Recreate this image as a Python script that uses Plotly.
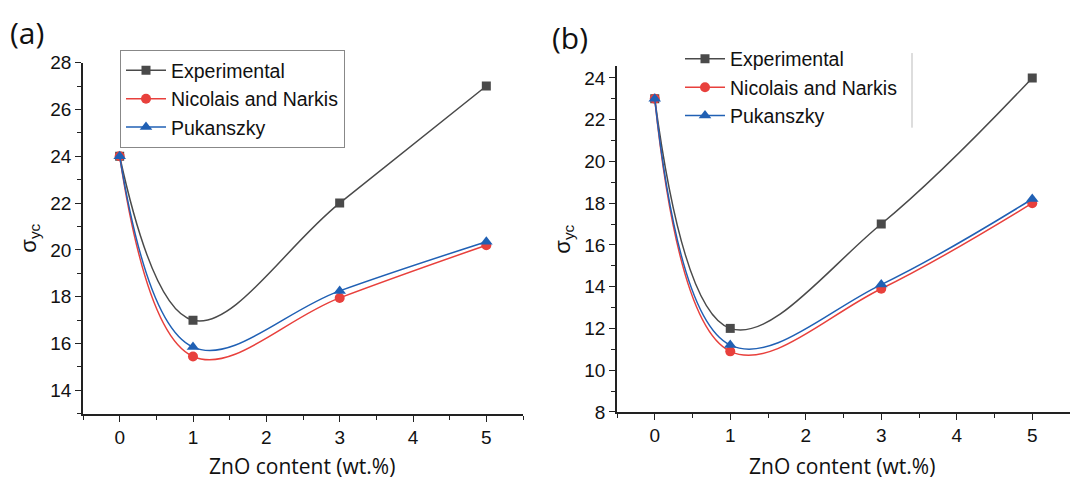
import plotly.graph_objects as go

# ---- data ----
zno = [0, 1, 3, 5]
a_experimental = [24, 17, 22, 27]
a_nicolais = [24, 15.45, 17.95, 20.2]
a_pukanszky = [24, 15.85, 18.25, 20.35]

b_experimental = [23, 12, 17, 24]
b_nicolais = [23, 10.9, 13.9, 18.0]
b_pukanszky = [23, 11.2, 14.1, 18.2]

series_names = ["Experimental", "Nicolais and Narkis", "Pukanszky"]
x_ticks = [0, 1, 2, 3, 4, 5]
a_y_ticks = [14, 16, 18, 20, 22, 24, 26, 28]
b_y_ticks = [8, 10, 12, 14, 16, 18, 20, 22, 24]
x_title = "ZnO content (wt.%)"

W, H = 1070, 487
colors = ["#4a4a4a", "#e8403c", "#2060b4"]
symbols = ["square", "circle", "triangle-up"]
msizes = [9, 10, 11]

fig = go.Figure()

panels = [
    (("x", "y"), [a_experimental, a_nicolais, a_pukanszky], "legend"),
    (("x2", "y2"), [b_experimental, b_nicolais, b_pukanszky], "legend2"),
]
for (xa, ya), sers, lg in panels:
    for name, vals, c, s, ms in zip(series_names, sers, colors, symbols, msizes):
        fig.add_trace(go.Scatter(
            x=zno, y=vals, name=name, xaxis=xa, yaxis=ya, legend=lg,
            mode="lines+markers",
            line=dict(color=c, width=1.5, shape="spline", smoothing=1.1),
            marker=dict(symbol=s, size=ms, color=c),
        ))

tickfont = dict(family="Liberation Sans, Arial", size=19, color="#111")
titlefont = dict(family="Open Sans, Liberation Sans", size=21, color="#111")

def xax(domain, anchor):
    return dict(domain=domain, anchor=anchor, range=[-0.5, 5.5],
                tickvals=x_ticks, ticks="outside", ticklen=6, tickwidth=1.3,
                tickcolor="#222", showline=True, linecolor="#222", linewidth=1.5,
                showgrid=False, zeroline=False, tickfont=tickfont,
                minor=dict(dtick=0.5, tick0=-0.5, ticks="outside", ticklen=4,
                           tickcolor="#222", tickwidth=1.2, showgrid=False))

def yax(domain, anchor, rng, tvals):
    return dict(domain=domain, anchor=anchor, range=rng, tickvals=tvals,
                ticks="outside", ticklen=6, tickwidth=1.3, tickcolor="#222",
                showline=True, linecolor="#222", linewidth=1.5,
                showgrid=False, zeroline=False, tickfont=tickfont,
                minor=dict(dtick=1, ticks="outside", ticklen=4, tickcolor="#222",
                           tickwidth=1.2, showgrid=False),
                title=dict(text="σ<sub>yc</sub>",
                           font=dict(family="Liberation Sans, Arial", size=22, color="#111"),
                           standoff=8))

legfont = dict(family="Liberation Sans, Arial", size=19.5, color="#111")

fig.update_layout(
    width=W, height=H,
    margin=dict(l=0, r=0, t=0, b=0),
    paper_bgcolor="white", plot_bgcolor="white",
    xaxis=xax([83 / W, 523 / W], "y"),
    yaxis=yax([1 - 422 / H, 1 - 55 / H], "x", [13, 28], a_y_ticks),
    xaxis2=xax([617 / W, 1.0], "y2"),
    yaxis2=yax([1 - 420 / H, 1 - 59 / H], "x2", [8, 24.55], b_y_ticks),
    legend=dict(x=120 / W, y=1 - 42 / H, xanchor="left", yanchor="top",
                bordercolor="#888", borderwidth=1, bgcolor="rgba(255,255,255,0)",
                font=legfont, tracegroupgap=0, itemwidth=40),
    legend2=dict(x=680 / W, y=1 - 31 / H, xanchor="left", yanchor="top",
                 borderwidth=0, bgcolor="rgba(255,255,255,0)",
                 font=legfont, tracegroupgap=0, itemwidth=40),
    showlegend=True,
    annotations=[
        dict(text="(a)", x=8 / W, y=1.0, xref="paper", yref="paper",
             xanchor="left", yanchor="top", showarrow=False,
             font=dict(family="Open Sans, Liberation Sans", size=30, color="#111")),
        dict(text="(b)", x=550 / W, y=1 - 5 / H, xref="paper", yref="paper",
             xanchor="left", yanchor="top", showarrow=False,
             font=dict(family="Open Sans, Liberation Sans", size=30, color="#111")),
        dict(text=x_title, x=302 / W, y=1 - 477 / H, xref="paper", yref="paper",
             xanchor="center", yanchor="middle", showarrow=False, font=titlefont),
        dict(text=x_title, x=842 / W, y=1 - 477 / H, xref="paper", yref="paper",
             xanchor="center", yanchor="middle", showarrow=False, font=titlefont),
    ],
    shapes=[
        dict(type="line", xref="paper", yref="paper", x0=912 / W, x1=912 / W,
             y0=1 - 45 / H, y1=1 - 123 / H, line=dict(color="#bbb", width=1)),
    ],
)

fig.write_html("out.html")
